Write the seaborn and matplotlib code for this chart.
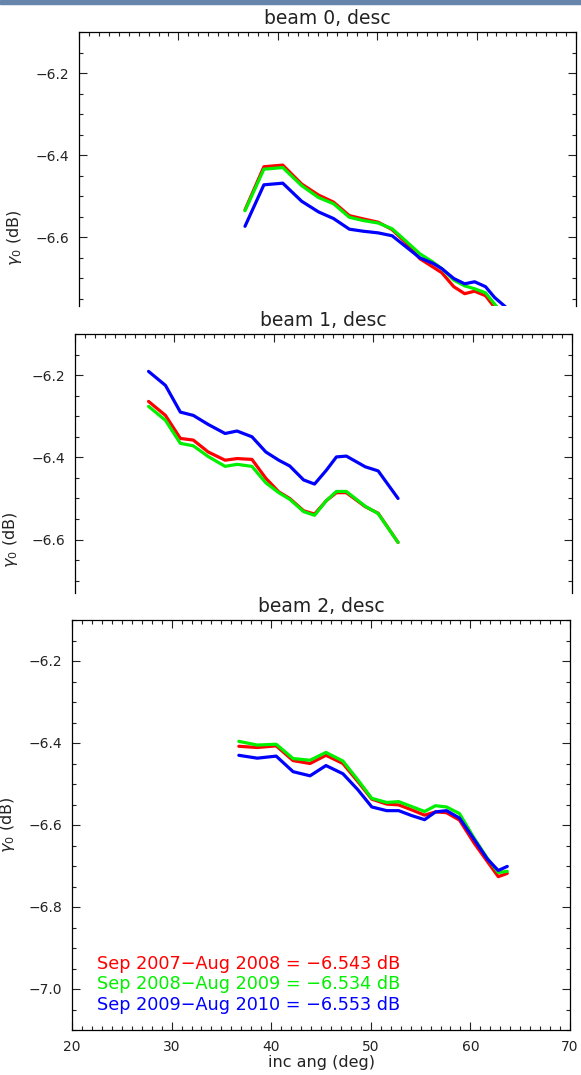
import matplotlib
matplotlib.use("Agg")
import matplotlib.pyplot as plt
import seaborn as sns
import numpy as np
import pandas as pd
from matplotlib.ticker import MultipleLocator, FuncFormatter

# Data (incidence angle in deg, gamma0 in dB)
beam0_ang = [36.7, 38.6, 40.5, 42.4, 44.1, 45.6, 47.2, 48.6, 50.1, 51.5, 52.8,
             54.3, 55.6, 56.5, 57.7, 58.8, 59.8, 60.9, 61.8, 62.9, 63.8]
beam0_y1 = [-6.533, -6.428, -6.424, -6.470, -6.497, -6.514, -6.547, -6.555, -6.563, -6.581, -6.611,
            -6.652, -6.672, -6.686, -6.720, -6.737, -6.731, -6.742, -6.770, -6.800, -6.830]
beam0_y2 = [-6.535, -6.434, -6.430, -6.474, -6.503, -6.518, -6.551, -6.559, -6.565, -6.579, -6.607,
            -6.640, -6.660, -6.676, -6.704, -6.718, -6.725, -6.735, -6.762, -6.795, -6.825]
beam0_y3 = [-6.573, -6.472, -6.468, -6.512, -6.538, -6.554, -6.580, -6.585, -6.589, -6.596, -6.621,
            -6.650, -6.663, -6.676, -6.700, -6.713, -6.708, -6.720, -6.746, -6.769, -6.795]

beam1_ang = [27.4, 29.1, 30.6, 31.9, 33.4, 35.1, 36.3, 37.8, 39.2, 40.5, 41.6,
             43.0, 44.1, 45.3, 46.3, 47.3, 49.2, 50.5, 52.5]
beam1_y1 = [-6.264, -6.298, -6.354, -6.358, -6.387, -6.407, -6.403, -6.405, -6.451, -6.484, -6.500,
            -6.530, -6.538, -6.505, -6.486, -6.486, -6.520, -6.536, -6.607]
beam1_y2 = [-6.276, -6.310, -6.366, -6.372, -6.398, -6.422, -6.417, -6.422, -6.462, -6.486, -6.502,
            -6.532, -6.541, -6.505, -6.483, -6.483, -6.519, -6.537, -6.607]
beam1_y3 = [-6.191, -6.225, -6.290, -6.298, -6.320, -6.342, -6.336, -6.350, -6.387, -6.407, -6.421,
            -6.455, -6.465, -6.431, -6.399, -6.397, -6.423, -6.433, -6.500]

beam2_ang = [36.75, 38.6, 40.5, 42.2, 43.9, 45.5, 47.2, 48.7, 50.1, 51.6, 52.8,
             54.1, 55.4, 56.5, 57.6, 58.9, 60.4, 61.7, 62.8, 63.7]
beam2_y1 = [-6.408, -6.411, -6.407, -6.443, -6.450, -6.430, -6.450, -6.494, -6.537, -6.549, -6.551,
            -6.563, -6.576, -6.568, -6.570, -6.588, -6.645, -6.689, -6.726, -6.718]
beam2_y2 = [-6.396, -6.405, -6.403, -6.438, -6.442, -6.423, -6.444, -6.490, -6.535, -6.545, -6.543,
            -6.555, -6.567, -6.553, -6.556, -6.572, -6.633, -6.681, -6.716, -6.713]
beam2_y3 = [-6.430, -6.437, -6.432, -6.470, -6.480, -6.455, -6.475, -6.514, -6.556, -6.565, -6.565,
            -6.577, -6.587, -6.568, -6.565, -6.583, -6.636, -6.683, -6.711, -6.701]

periods = ["Sep 2007\u2212Aug 2008", "Sep 2008\u2212Aug 2009", "Sep 2009\u2212Aug 2010"]
means = [-6.543, -6.534, -6.553]
colors = ["#ff0000", "#00f000", "#0000ff"]
titles = ["beam 0, desc", "beam 1, desc", "beam 2, desc"]

sns.set_style("ticks")
plt.rcParams["font.family"] = ["DejaVu Sans"]
plt.rcParams["text.color"] = "#222222"

fig = plt.figure(figsize=(5.81, 10.75), dpi=100)

# slide header strip at the very top
fig.patches.append(plt.Rectangle((0, 1 - 3.5 / 1075), 1, 3.5 / 1075,
                                 transform=fig.transFigure, color="#6784ab", zorder=0))

# axes boxes: [left, bottom, width, height] (panels 1 and 2 are cut off at the bottom)
boxes = [[79 / 581, (1075 - 306) / 1075, 497 / 581, 274 / 1075],
         [75 / 581, (1075 - 593) / 1075, 497 / 581, 259 / 1075],
         [72 / 581, (1075 - 1030) / 1075, 498 / 581, 410 / 1075]]
ylims = [(-6.767, -6.1), (-6.730, -6.1), (-7.1, -6.1)]
label_y = [0.25, 0.205, 0.5]

panels = [(beam0_ang, [beam0_y1, beam0_y2, beam0_y3]),
          (beam1_ang, [beam1_y1, beam1_y2, beam1_y3]),
          (beam2_ang, [beam2_y1, beam2_y2, beam2_y3])]

fmt = FuncFormatter(lambda v, p: f"{v:.1f}".replace("-", "\u2212"))

for i, (ang, series) in enumerate(panels):
    ax = fig.add_axes(boxes[i])
    for ys, c in zip(series, colors):
        df = pd.DataFrame({"ang": ang, "g0": ys})
        sns.lineplot(data=df, x="ang", y="g0", color=c, lw=2.3, ax=ax, sort=False)
    ax.set_xlim(20, 70)
    ax.set_ylim(*ylims[i])
    ax.xaxis.set_major_locator(MultipleLocator(10))
    ax.xaxis.set_minor_locator(MultipleLocator(1))
    ax.yaxis.set_major_locator(MultipleLocator(0.2))
    ax.yaxis.set_minor_locator(MultipleLocator(0.05))
    ax.yaxis.set_major_formatter(fmt)
    last = i == 2
    for s in ax.spines.values():
        s.set_visible(True)
        s.set_linewidth(0.9)
        s.set_color("black")
    ax.spines["bottom"].set_visible(last)
    ax.tick_params(which="both", direction="in", top=True, right=True,
                   bottom=last, labelbottom=last, width=0.8, color="#222222",
                   labelcolor="#222222", labelsize=10, pad=7)
    ax.tick_params(which="major", length=6)
    ax.tick_params(which="minor", length=3)
    ax.set_title(titles[i], fontsize=13.5, pad=6, color="#222222")
    ax.set_ylabel(r"$\gamma_0$ (dB)", fontsize=11.5, color="#222222")
    ax.yaxis.set_label_coords(-0.11, label_y[i])
    if last:
        ax.set_xlabel("inc ang (deg)", fontsize=11.5, labelpad=1, color="#222222")
        for k in range(3):
            ax.text(0.05, 0.161 - k * 0.05, f"{periods[k]} = {means[k]:.3f} dB".replace("-", "\u2212"),
                    color=colors[k], fontsize=12.7, va="center", ha="left", transform=ax.transAxes)
    else:
        ax.set_xlabel("")

fig.savefig("out.png", dpi=100)
